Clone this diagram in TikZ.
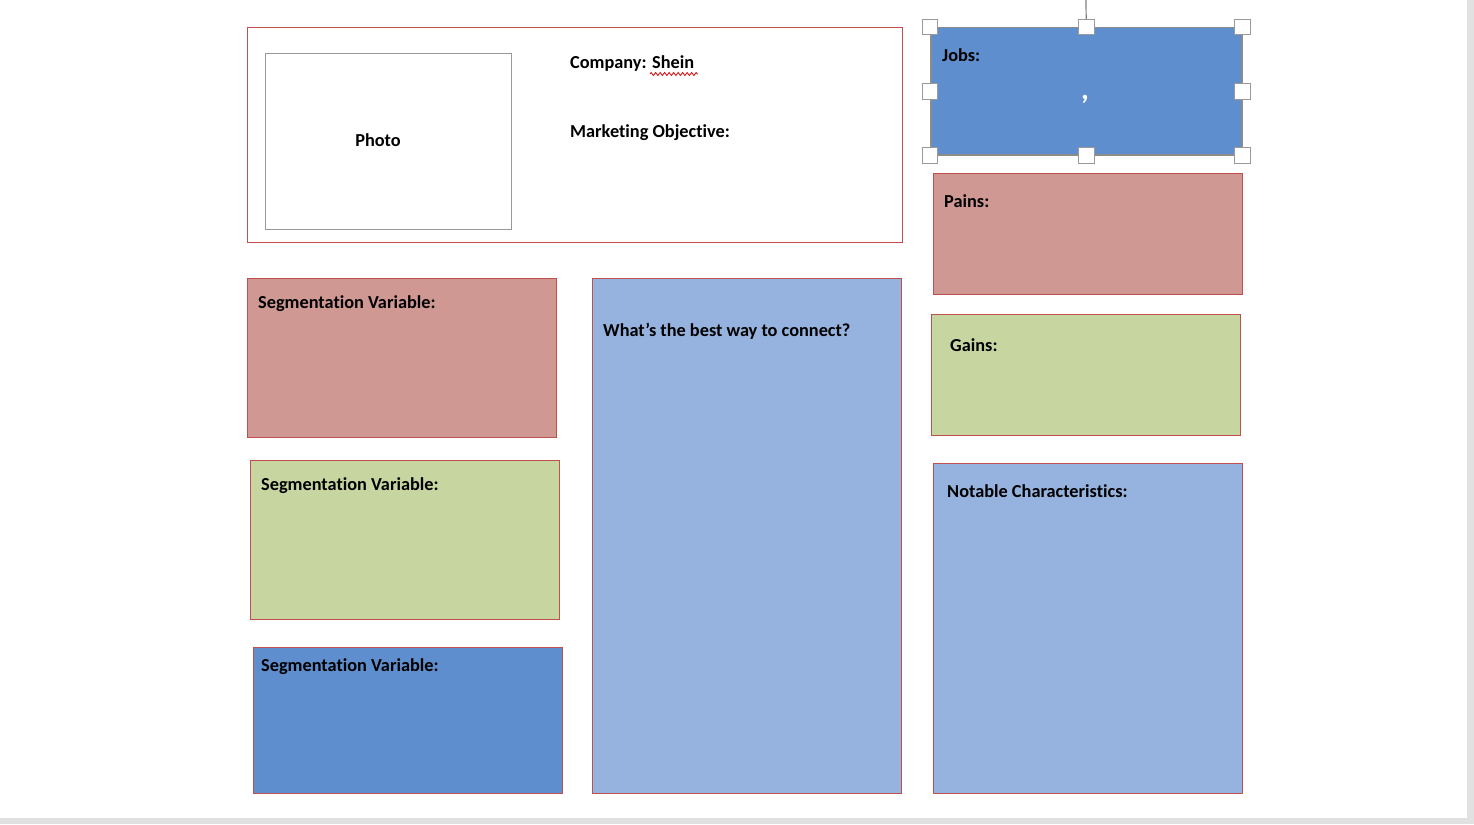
\documentclass[tikz,border=0pt]{standalone}
\usepackage{fontspec}
\setmainfont{Carlito}[Ligatures=NoCommon]
\usepackage{xcolor}
\usepackage{tikz}
\usetikzlibrary{calc}
\usetikzlibrary{positioning}
\usetikzlibrary{decorations.pathmorphing}
\definecolor{edgered}{HTML}{C0504D}
\definecolor{pinkc}{HTML}{D09893}
\definecolor{greenc}{HTML}{C7D5A0}
\definecolor{bluec}{HTML}{5F8ECF}
\definecolor{lightbluec}{HTML}{95B3DE}
\definecolor{pagegrey}{HTML}{E1E1E1}
\tikzset{card/.style = {draw=edgered, line width=0.9pt, anchor=north west, inner sep=0, rectangle}}
\tikzset{head/.style = {anchor=west, inner sep=0, font=\bfseries\fontsize{18.3}{21}\selectfont}}
\tikzset{handle/.style = {draw=gray!80, fill=white, line width=0.9pt, minimum size=15.5pt, inner sep=0, rectangle}}

\begin{document}
\begin{tikzpicture}[x=1pt, y=-1pt]
% page
\fill [pagegrey] (0, 0) rectangle (1474, 824);
\fill [white] (0, 0) rectangle (1467, 818);
\useasboundingbox (0, 0) rectangle (1474, 824);
% top panel
\node [card, fill=white, minimum width=655pt, minimum height=215pt] (top) at (247, 27) {};
\node [card, draw=gray!80, fill=white, minimum width=246pt, minimum height=176pt] (photo) at (265, 53) {};
\node [head, anchor=center] (photoT) at (378, 140) {Photo};
\node [head] (company) at (570, 64) {Company: Shein};
\node [head] (objective) at (570, 133) {Marketing Objective:};
\coordinate (wavyA) at (650, 74);
\coordinate (wavyB) at (698, 74);
\draw [red!85!black, line width=0.8pt, decorate, decoration={zigzag, amplitude=1.5pt, segment length=4.5pt}] (wavyA) -- (wavyB);
% left column
\node [card, fill=pinkc, minimum width=309pt, minimum height=159pt] (segA) at (247, 278) {};
\node [head] (segAT) at (258, 304) {Segmentation Variable:};
\node [card, fill=greenc, minimum width=309pt, minimum height=159pt] (segB) at (250, 460) {};
\node [head] (segBT) at (261, 486) {Segmentation Variable:};
\node [card, fill=bluec, minimum width=309pt, minimum height=146pt] (segC) at (253, 647) {};
\node [head] (segCT) at (261, 667) {Segmentation Variable:};
% middle column
\node [card, fill=lightbluec, minimum width=309pt, minimum height=515pt] (connect) at (592, 278) {};
\node [head] (connectT) at (603, 331) {What’s the best way to connect?};
% right column
\node [card, draw=gray!90, line width=1.5pt, fill=bluec, minimum width=311pt, minimum height=127pt] (jobs) at (930, 27) {};
\node [head] (jobsT) at (942, 55) {Jobs:};
\node [head, anchor=center, text=white, font=\bfseries\fontsize{30}{30}\selectfont] (comma) at (1085, 99) {,};
\coordinate (rot) at (1086, 0);
\draw [gray, line width=1.2pt] (jobs.north) -- (rot);
\foreach \a in {north west, north, north east, west, east, south west, south, south east}
  \node [handle] (h-\a) at (jobs.\a) {};
\node [card, fill=pinkc, minimum width=309pt, minimum height=121pt] (pains) at (933, 173) {};
\node [head] (painsT) at (944, 201) {Pains:};
\node [card, fill=greenc, minimum width=309pt, minimum height=121pt] (gains) at (931, 314) {};
\node [head] (gainsT) at (950, 345) {Gains:};
\node [card, fill=lightbluec, minimum width=309pt, minimum height=330pt] (notable) at (933, 463) {};
\node [head] (notableT) at (947, 491) {Notable Characteristics:};
\end{tikzpicture}
\end{document}
